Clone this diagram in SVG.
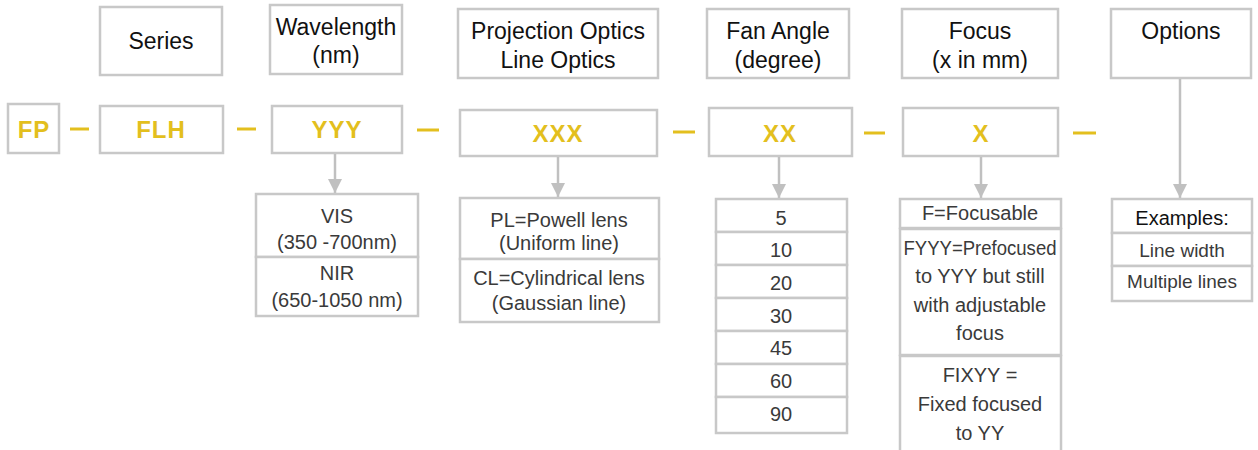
<svg xmlns="http://www.w3.org/2000/svg" width="1258" height="450" viewBox="0 0 1258 450">
<style>
.box{fill:#fff;stroke:#c8c8c8;stroke-width:2.5}
.hd{font-family:"Liberation Sans",Arial,sans-serif;font-size:23px;fill:#111;text-anchor:middle}
.code{font-family:"Liberation Sans",Arial,sans-serif;font-size:24px;font-weight:bold;fill:#e3bf1e;text-anchor:middle;letter-spacing:1px}
.li{font-family:"Liberation Sans",Arial,sans-serif;font-size:20px;fill:#3a3a3a;text-anchor:middle}
.dash{stroke:#e3bf1e;stroke-width:3}
.conn{stroke:#c0c0c0;stroke-width:2.5;fill:none;marker-end:url(#ah)}
</style>
<defs>
<marker id="ah" markerUnits="userSpaceOnUse" markerWidth="16" markerHeight="16" refX="14" refY="7" orient="auto">
<path d="M0,0 L14,7 L0,14 z" fill="#c0c0c0"/>
</marker>
</defs>
<rect width="1258" height="450" fill="#fff"/>

<g id="h-series"><rect class="box" x="100" y="7" width="122" height="68"/><text class="hd" x="161" y="49">Series</text></g>
<g id="h-wavelength"><rect class="box" x="270" y="5" width="132" height="69"/><text class="hd" x="336" y="35">Wavelength</text><text class="hd" x="336" y="63">(nm)</text></g>
<g id="h-optics"><rect class="box" x="458" y="9" width="200" height="69"/><text class="hd" x="558" y="39">Projection Optics</text><text class="hd" x="558" y="68">Line Optics</text></g>
<g id="h-fan"><rect class="box" x="707" y="9" width="142" height="69"/><text class="hd" x="778" y="39">Fan Angle</text><text class="hd" x="778" y="68">(degree)</text></g>
<g id="h-focus"><rect class="box" x="902" y="9" width="156" height="69"/><text class="hd" x="980" y="39">Focus</text><text class="hd" x="980" y="68">(x in mm)</text></g>
<g id="h-options"><rect class="box" x="1111" y="9" width="140" height="69"/><text class="hd" x="1181" y="39">Options</text></g>

<g id="c-fp"><rect class="box" x="8" y="104" width="51" height="49"/><text class="code" x="34" y="138">FP</text></g>
<g id="c-flh"><rect class="box" x="100" y="106" width="123" height="47"/><text class="code" x="161" y="138">FLH</text></g>
<g id="c-yyy"><rect class="box" x="272" y="106" width="130" height="47"/><text class="code" x="337" y="138">YYY</text></g>
<g id="c-xxx"><rect class="box" x="460" y="110" width="197" height="46"/><text class="code" x="558" y="142">XXX</text></g>
<g id="c-xx"><rect class="box" x="709" y="108" width="143" height="48"/><text class="code" x="780" y="142">XX</text></g>
<g id="c-x"><rect class="box" x="903" y="108" width="155" height="48"/><text class="code" x="981" y="142">X</text></g>

<g id="dashes">
<line class="dash" x1="70" y1="129" x2="89" y2="129"/>
<line class="dash" x1="237" y1="129" x2="256" y2="129"/>
<line class="dash" x1="417" y1="130" x2="439" y2="130"/>
<line class="dash" x1="673" y1="132" x2="695" y2="132"/>
<line class="dash" x1="864" y1="133" x2="885" y2="133"/>
<line class="dash" x1="1073" y1="133" x2="1096" y2="133"/>
</g>

<g id="connectors">
<line class="conn" x1="335" y1="154" x2="335" y2="193"/>
<line class="conn" x1="558" y1="157" x2="558" y2="197"/>
<line class="conn" x1="779" y1="157" x2="779" y2="198"/>
<line class="conn" x1="981" y1="157" x2="981" y2="198"/>
<line class="conn" x1="1180" y1="79" x2="1180" y2="198"/>
</g>

<g id="l-wavelength">
<rect class="box" x="256" y="194" width="162" height="63"/>
<rect class="box" x="256" y="257" width="162" height="59"/>
<text class="li" x="337" y="223">VIS</text>
<text class="li" x="337" y="249">(350 -700nm)</text>
<text class="li" x="337" y="280">NIR</text>
<text class="li" x="337" y="307">(650-1050 nm)</text>
</g>

<g id="l-optics">
<rect class="box" x="460" y="198" width="199" height="61"/>
<rect class="box" x="460" y="259" width="199" height="63"/>
<text class="li" x="559" y="227">PL=Powell lens</text>
<text class="li" x="559" y="250">(Uniform line)</text>
<text class="li" x="559" y="285">CL=Cylindrical lens</text>
<text class="li" x="559" y="310">(Gaussian line)</text>
</g>

<g id="l-fan">
<rect class="box" x="716" y="199" width="131" height="33"/>
<rect class="box" x="716" y="232" width="131" height="33"/>
<rect class="box" x="716" y="265" width="131" height="33"/>
<rect class="box" x="716" y="298" width="131" height="33"/>
<rect class="box" x="716" y="331" width="131" height="33"/>
<rect class="box" x="716" y="364" width="131" height="33"/>
<rect class="box" x="716" y="397" width="131" height="36"/>
<text class="li" x="781" y="225">5</text>
<text class="li" x="781" y="257">10</text>
<text class="li" x="781" y="290">20</text>
<text class="li" x="781" y="323">30</text>
<text class="li" x="781" y="355">45</text>
<text class="li" x="781" y="388">60</text>
<text class="li" x="781" y="421">90</text>
</g>

<g id="l-focus">
<rect class="box" x="900" y="199" width="161" height="29"/>
<rect class="box" x="900" y="229" width="161" height="126"/>
<rect class="box" x="900" y="356" width="161" height="100"/>
<text class="li" x="980" y="220">F=Focusable</text>
<text class="li" x="980" y="255" textLength="153" lengthAdjust="spacingAndGlyphs">FYYY=Prefocused</text>
<text class="li" x="980" y="283">to YYY but still</text>
<text class="li" x="980" y="312">with adjustable</text>
<text class="li" x="980" y="340">focus</text>
<text class="li" x="980" y="382">FIXYY =</text>
<text class="li" x="980" y="411">Fixed focused</text>
<text class="li" x="980" y="440">to YY</text>
</g>

<g id="l-options">
<rect class="box" x="1112" y="199" width="140" height="34"/>
<rect class="box" x="1112" y="233" width="140" height="33"/>
<rect class="box" x="1112" y="266" width="140" height="35"/>
<text class="li" x="1182" y="225" style="fill:#111">Examples:</text>
<text class="li" x="1182" y="257" style="font-size:19px">Line width</text>
<text class="li" x="1182" y="288" style="font-size:19px">Multiple lines</text>
</g>
</svg>
